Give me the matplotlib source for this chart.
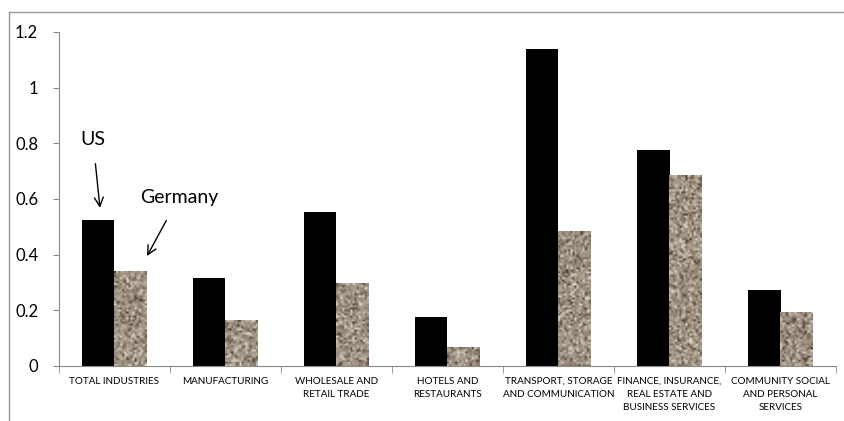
"""Labour productivity gap by industry, US vs Germany: clustered bars."""

import matplotlib

matplotlib.use("Agg")
import matplotlib.pyplot as plt  # noqa: E402
import numpy as np  # noqa: E402
from matplotlib.lines import Line2D  # noqa: E402
from matplotlib.colors import LinearSegmentedColormap  # noqa: E402

categories = [
    "TOTAL INDUSTRIES",
    "MANUFACTURING",
    "WHOLESALE AND\nRETAIL TRADE",
    "HOTELS AND\nRESTAURANTS",
    "TRANSPORT, STORAGE\nAND COMMUNICATION",
    "FINANCE, INSURANCE,\nREAL ESTATE AND\nBUSINESS SERVICES",
    "COMMUNITY SOCIAL\nAND PERSONAL\nSERVICES",
]
us_values = [0.525, 0.315, 0.555, 0.175, 1.138, 0.775, 0.273]
germany_values = [0.341, 0.165, 0.295, 0.065, 0.485, 0.683, 0.194]
y_ticks = [0, 0.2, 0.4, 0.6, 0.8, 1.0, 1.2]
y_tick_labels = ["0", "0.2", "0.4", "0.6", "0.8", "1", "1.2"]

FONT = ["Lato", "DejaVu Sans"]
AXIS_GREY = "#8a8a8a"
BAR_WIDTH = 0.29

plt.rcParams["font.family"] = FONT

# granite-like fill for the Germany bars (deterministic hash noise)
granite = LinearSegmentedColormap.from_list(
    "granite", ["#2f271f", "#6b5e50", "#968878", "#a69a8a", "#cdc3b6", "#efe8df"]
)


def speckle(rows: int, cols: int, seed: float) -> np.ndarray:
    yy, xx = np.mgrid[0:rows, 0:cols].astype(float)
    a = np.sin(xx * 12.9898 + yy * 78.233 + seed * 3.7) * 43758.5453
    b = np.sin(xx * 39.3468 + yy * 11.135 + seed * 1.3) * 24634.6345
    return ((a - np.floor(a)) + (b - np.floor(b))) / 2


fig = plt.figure(figsize=(8.45, 4.21), dpi=100)
ax = fig.add_axes([59 / 845, 1 - 366 / 421, (836 - 59) / 845, (366 - 32) / 421])

x = np.arange(len(categories))
ax.bar(x - BAR_WIDTH / 2, us_values, BAR_WIDTH, color="black", zorder=2)
germany_bars = ax.bar(x + BAR_WIDTH / 2, germany_values, BAR_WIDTH, color="#9c8f7f", zorder=2)
for i, bar in enumerate(germany_bars):
    x0, h = bar.get_x(), bar.get_height()
    rows = max(int(h * 278 / 2), 2)
    noise = speckle(rows, 16, i)
    ax.imshow(
        noise, cmap=granite, extent=(x0, x0 + BAR_WIDTH, 0, h), aspect="auto",
        interpolation="bilinear", zorder=3, vmin=0, vmax=1,
    )

ax.set_xlim(-0.5, len(categories) - 0.5)
ax.set_ylim(0, 1.2)

ax.set_yticks(y_ticks, y_tick_labels)
ax.set_xticks(x, categories, fontsize=7.1, linespacing=1.55)
ax.set_xticks(np.arange(len(categories) + 1) - 0.5, minor=True)
ax.tick_params(axis="x", which="major", length=0, pad=8)
ax.tick_params(axis="x", which="minor", length=5, color=AXIS_GREY, direction="out")
ax.tick_params(axis="y", length=4, color=AXIS_GREY, pad=11, labelsize=12)

for side in ("top", "right"):
    ax.spines[side].set_visible(False)
for side in ("left", "bottom"):
    ax.spines[side].set_color(AXIS_GREY)

arrow = dict(arrowstyle="->", color="black", lw=1.0, mutation_scale=16)
ax.annotate("US", xy=(-0.131, 0.568), xytext=(-0.194, 0.812), ha="center", va="center",
            fontsize=14, arrowprops=dict(arrow, shrinkA=9, shrinkB=0))
ax.annotate("Germany", xy=(0.293, 0.395), xytext=(0.581, 0.607), ha="center", va="center",
            fontsize=14, arrowprops=dict(arrow, shrinkA=10, shrinkB=0))

# outer chart-area frame (only left and top edges fall inside the crop)
frame = dict(color="#9a9a9a", lw=1.0, transform=fig.transFigure)
fig.add_artist(Line2D([9 / 845, 9 / 845], [0, 1 - 12 / 421], **frame))
fig.add_artist(Line2D([9 / 845, 1], [1 - 12 / 421, 1 - 12 / 421], **frame))

fig.savefig("out.png", dpi=100)
